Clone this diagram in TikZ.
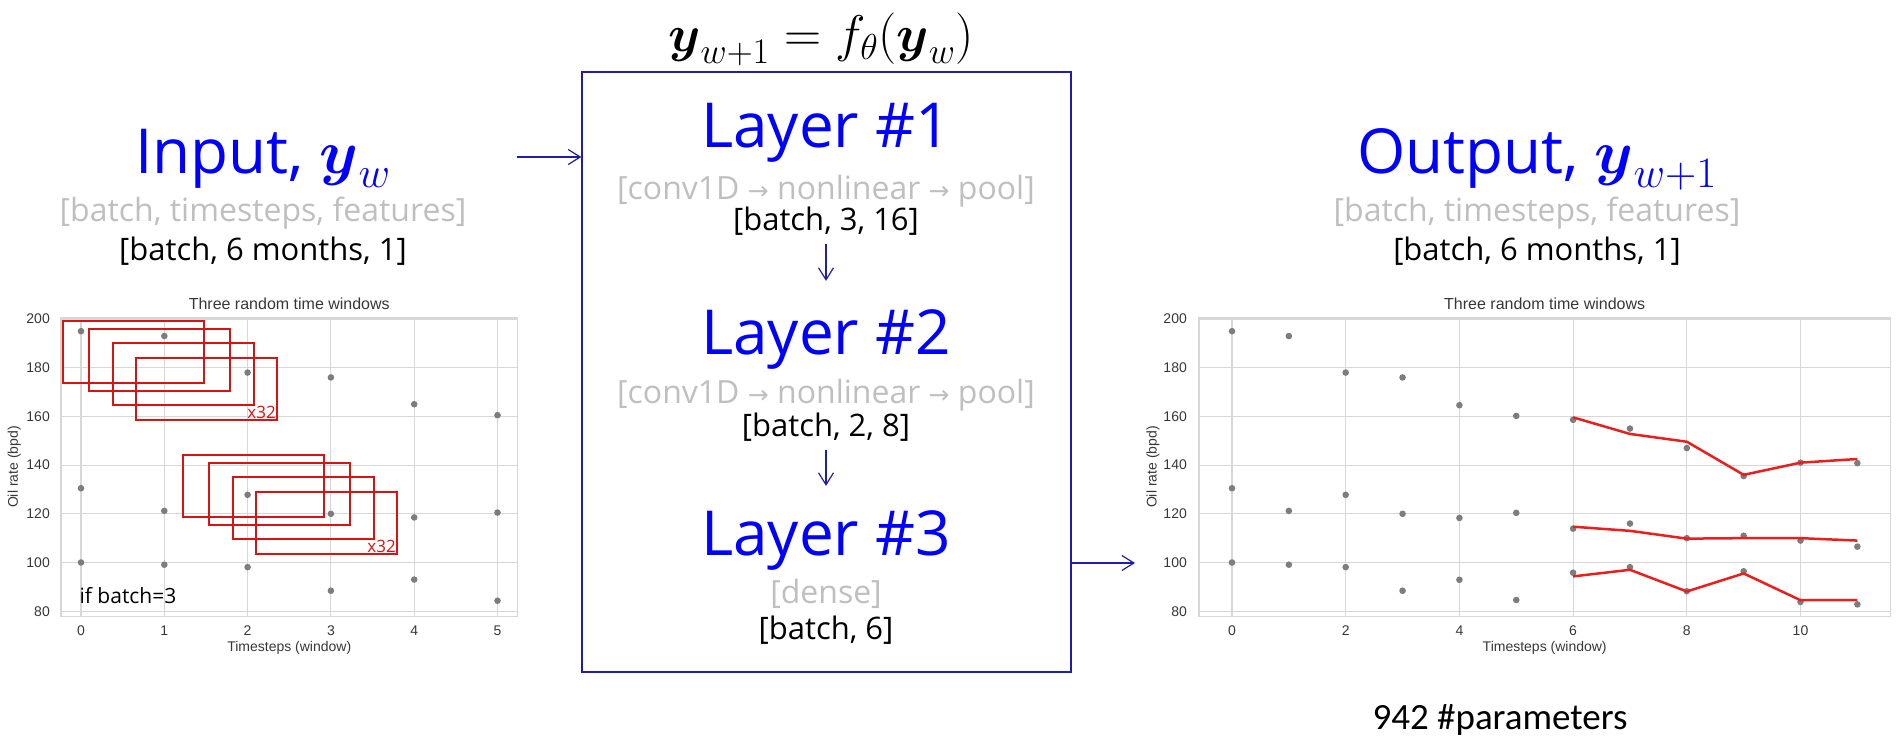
\RequirePackage{fix-cm}
\documentclass[tikz,border=0pt]{standalone}
\usepackage{amsmath}
\usepackage{fontspec}
\setmainfont{Open Sans}
\newfontfamily\plotfont{Liberation Sans}
\newfontfamily\notefont{Carlito}
\newfontfamily\arrfont{DejaVu Sans}
\usetikzlibrary{arrows.meta}
\definecolor{titleblue}{RGB}{0,0,255}
\definecolor{boxblue}{RGB}{30,30,170}
\definecolor{hintgray}{RGB}{191,191,191}
\definecolor{winred}{RGB}{215,20,20}
\definecolor{predred}{RGB}{235,30,30}
\definecolor{obsgray}{RGB}{125,125,125}
\definecolor{gridgray}{RGB}{215,215,215}
\definecolor{axtext}{RGB}{55,55,55}
\newcommand{\yv}{\boldsymbol{y}}
\newcommand{\arr}{{\arrfont\fontsize{25}{25}\selectfont →}}
\tikzset{
  eqn/.style={anchor=base, inner sep=0, font=\fontsize{51.5}{51.5}\selectfont},
  laytxt/.style={text=titleblue, anchor=base, inner sep=0, font=\fontsize{62}{62}\selectfont},
  hint/.style={text=hintgray, anchor=base, inner sep=0, font=\fontsize{32}{32}\selectfont},
  dims/.style={text=black, anchor=base, inner sep=0, font=\fontsize{31}{31}\selectfont},
  flow/.style={draw=boxblue, line width=1.2pt, -{Straight Barb[length=12pt,width=15pt]}},
  gridln/.style={draw=gridgray, line width=1.1pt},
  ticklab/.style={text=axtext, inner sep=0, font=\plotfont\fontsize{14}{14}\selectfont},
  plottitle/.style={text=axtext, anchor=base, inner sep=0, font=\plotfont\fontsize{16}{16}\selectfont},
  obs/.style={fill=obsgray},
  pred/.style={draw=predred, line width=2.5pt, line join=round},
  win/.style={draw=winred, line width=1.1pt},
  wintxt/.style={text=winred, inner sep=1pt, font=\fontsize{17}{17}\selectfont},
  notetxt/.style={text=black, inner sep=0, font=\fontsize{21}{21}\selectfont}
}
\begin{document}
\begin{tikzpicture}[x=1pt,y=-1pt]
\useasboundingbox (0,0) rectangle (1898,749);
% Model in the middle
\node[eqn] (eq) at (821,52) {$\yv_{w+1} = f_\theta(\yv_w)$};
\node[draw=boxblue, line width=1.3pt, minimum width=489pt, minimum height=600pt, inner sep=0] (net) at (826.5,372) {};
\node[laytxt] (lay1) at (826,147) {Layer \#1};
\node[hint] (op1) at (826,199) {[conv1D \arr{} nonlinear \arr{} pool]};
\node[dims] (b1) at (826,230) {[batch, 3, 16]};
\node[laytxt] (lay2) at (826,354) {Layer \#2};
\node[hint] (op2) at (826,403) {[conv1D \arr{} nonlinear \arr{} pool]};
\node[dims] (b2) at (826,436) {[batch, 2, 8]};
\node[laytxt] (lay3) at (826,555) {Layer \#3};
\node[hint] (op3) at (826,603) {[dense]};
\node[dims] (b3) at (826,639) {[batch, 6]};
\draw[flow] ([yshift=-9pt]b1.south) -- ([yshift=28pt]lay2.north);
\draw[flow] ([yshift=-9pt]b2.south) -- ([yshift=24pt]lay3.north);

% Input and output
\node[laytxt] (inp) at (263,173) {Input, $\yv_w$};
\node[hint] (inshape) at (263,221) {[batch, timesteps, features]};
\node[dims] (indims) at (263,260) {[batch, 6 months, 1]};
\node[laytxt] (outp) at (1537,173) {Output, $\yv_{w+1}$};
\node[hint] (outshape) at (1537,221) {[batch, timesteps, features]};
\node[dims] (outdims) at (1537,260) {[batch, 6 months, 1]};
\coordinate (inarr) at (517,157);
\coordinate (outarr) at (1135,563);
\draw[flow] (inarr) -- (inarr -| net.west);
\draw[flow] (outarr -| net.east) -- (outarr);

% Left plot
\begin{scope}[shift={(81,806)}, x=83.3pt, y=2.435pt]
\foreach \i in {0,...,5} {
  \draw[gridln] (\i,78) -- (\i,200.8);
  \node[ticklab] (lx\i) at (\i,78) [yshift=-15pt] {\i};
}
\foreach \v in {80,100,...,200} {
  \draw[gridln] (-0.24,\v) -- (5.24,\v);
  \node[ticklab, anchor=east] (ly\v) at (-0.24,\v) [xshift=-11pt] {\v};
}
\draw[gridln] (-0.24,78) rectangle (5.24,200.8);
\foreach \v [count=\i from 0] in {195,193,178,176,165,160.5}
  \fill[obs] (\i,\v) circle[radius=3.3pt];
\foreach \v [count=\i from 0] in {130.5,121.2,127.8,120,118.5,120.5}
  \fill[obs] (\i,\v) circle[radius=3.3pt];
\foreach \v [count=\i from 0] in {100,99.1,98.1,88.4,93,84.3}
  \fill[obs] (\i,\v) circle[radius=3.3pt];
\node[plottitle] (ltitle) at (2.5,200.8) [yshift=8pt] {Three random time windows};
\node[ticklab] (lxlab) at (2.5,78) [yshift=-32pt] {Timesteps (window)};
\node[ticklab, rotate=90] (lylab) at (-0.8,139.2) {Oil rate (bpd)};
\end{scope}
% Sliding windows
\foreach \dx/\dy in {0/0, 26/8, 50/22, 73/37} {
  \draw[win] (63+\dx,321+\dy) rectangle +(141,62);
  \draw[win] (183+\dx,455+\dy) rectangle +(141,62);
}
\node[wintxt, anchor=south east] (xa) at (277,420) {x32};
\node[wintxt, anchor=south east] (xb) at (397,554) {x32};
\node[notetxt] (bsz) at (128,596) {if batch=3};

% Right plot
\begin{scope}[shift={(1232,806)}, x=56.85pt, y=2.435pt]
\foreach \i in {0,2,...,10} {
  \draw[gridln] (\i,78) -- (\i,200.8);
  \node[ticklab] (rx\i) at (\i,78) [yshift=-15pt] {\i};
}
\foreach \v in {80,100,...,200} {
  \draw[gridln] (-0.58,\v) -- (11.58,\v);
  \node[ticklab, anchor=east] (ry\v) at (-0.58,\v) [xshift=-12pt] {\v};
}
\draw[gridln] (-0.58,78) rectangle (11.58,200.8);
\foreach \v [count=\i from 0] in {195,193,178,176,164.6,160.2,158.6,155,147,135.5,141,140.8}
  \fill[obs] (\i,\v) circle[radius=3.3pt];
\foreach \v [count=\i from 0] in {130.5,121.2,127.8,120,118.3,120.4,113.9,116,110,111,109,106.5}
  \fill[obs] (\i,\v) circle[radius=3.3pt];
\foreach \v [count=\i from 0] in {100,99.1,98.1,88.4,92.9,84.6,95.8,98.1,88.2,96.4,83.8,82.8}
  \fill[obs] (\i,\v) circle[radius=3.3pt];
\draw[pred] plot coordinates {(6,159.6) (7,152.8) (8,149.6) (9,136) (10,141) (11,142.5)};
\draw[pred] plot coordinates {(6,114.7) (7,113) (8,109.8) (9,110) (10,110) (11,109)};
\draw[pred] plot coordinates {(6,94.3) (7,97) (8,88.1) (9,95.5) (10,84.5) (11,84.5)};
\node[plottitle] (rtitle) at (5.5,200.8) [yshift=8pt] {Three random time windows};
\node[ticklab] (rxlab) at (5.5,78) [yshift=-32pt] {Timesteps (window)};
\node[ticklab, rotate=90] (rylab) at (-1.39,139.2) {Oil rate (bpd)};
\end{scope}
\node[text=black, anchor=base, inner sep=0, font=\notefont\fontsize{37}{37}\selectfont] (npar) at (1500,729) {942 \#parameters};
\end{tikzpicture}
\end{document}
